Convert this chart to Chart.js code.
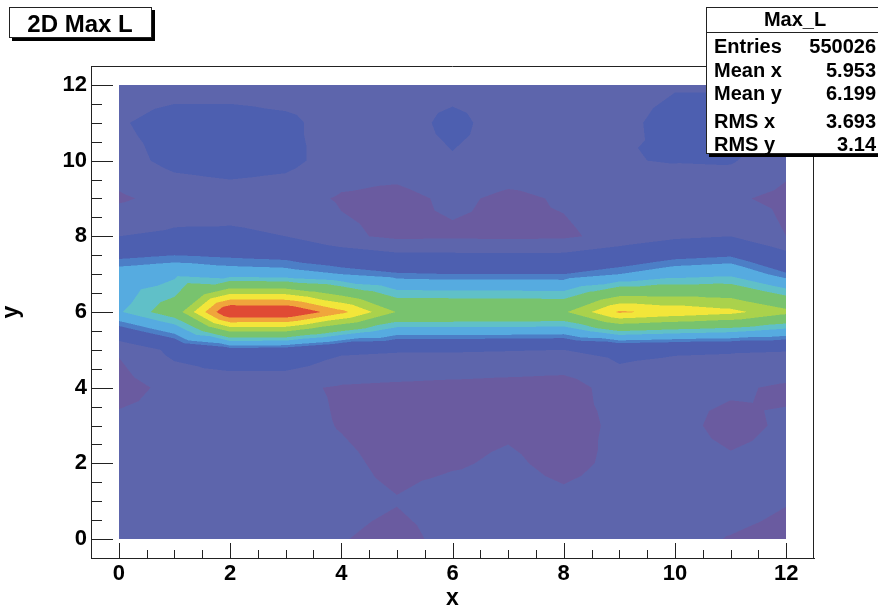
<!DOCTYPE html>
<html>
<head>
<meta charset="utf-8">
<script src="https://cdn.jsdelivr.net/npm/chart.js@4.4.0/dist/chart.umd.min.js"></script>
<style>
  html, body { margin: 0; padding: 0; background: #fff; }
</style>
</head>
<body>
<canvas id="myChart" width="878" height="612"></canvas>
<script>
// bin centres
const xCenters = [0, 1, 2, 3, 4, 5, 6, 7, 8, 9, 10, 11, 12];
const yCenters = [0, 1, 2, 3, 4, 5, 6, 7, 8, 9, 10, 11, 12];

// bin contents (thousands of entries), one list per y row, x = 0..12
const row0  = [1.5, 1.5, 1.45, 1.4, 1.05, 0.7, 1.3, 1.45, 1.4, 1.35, 1.3, 0.95, 0.7];
const row1  = [1.5, 1.5, 1.5, 1.45, 1.3, 1.05, 1.4, 1.4, 1.2, 1.4, 1.45, 1.4, 1.05];
const row2  = [1.45, 1.5, 1.45, 1.4, 1.2, 0.75, 0.9, 1.15, 0.75, 1.2, 1.4, 1.15, 1.3];
const row3  = [1.3, 1.45, 1.45, 1.35, 0.95, 0.6, 0.7, 0.85, 0.6, 1.2, 1.3, 0.7, 1.15];
const row4  = [0.6, 1.3, 1.15, 1.2, 0.9, 0.8, 0.7, 0.6, 0.5, 1.5, 1.2, 1.15, 0.85];
const row5  = [1.1, 2.3, 3.1, 3.0, 2.2, 2.1, 2.1, 2.05, 2.0, 2.3, 2.15, 2.1, 2.05];
const row6  = [4.9, 6.3, 11.2, 11.2, 9.3, 6.95, 6.95, 6.95, 6.85, 9.15, 8.7, 8.3, 7.3];
const row7  = [4.5, 4.8, 4.5, 4.4, 4.0, 3.6, 3.5, 3.5, 3.5, 4.0, 4.6, 4.8, 3.6];
const row8  = [2.0, 2.2, 2.2, 2.0, 1.2, 0.8, 0.85, 0.8, 0.85, 1.3, 1.8, 2.0, 1.0];
const row9  = [0.85, 1.35, 1.5, 1.4, 0.9, 0.7, 1.2, 0.8, 1.1, 1.5, 1.4, 1.15, 0.75];
const row10 = [1.6, 2.3, 2.5, 2.3, 1.5, 1.5, 1.9, 1.6, 1.6, 1.95, 2.05, 2.1, 1.3];
const row11 = [1.9, 2.4, 2.4, 2.2, 1.6, 1.5, 2.3, 1.5, 1.55, 1.7, 2.4, 2.4, 2.2];
const row12 = [1.5, 1.6, 1.6, 1.55, 1.5, 1.5, 1.6, 1.5, 1.5, 1.55, 1.9, 1.9, 1.8];
const zRows = [row0, row1, row2, row3, row4, row5, row6, row7, row8, row9, row10, row11, row12];

// contour levels and the fill colour of each band
const contourLevels = [1.0, 2.0, 3.5, 4.0, 5.0, 5.7, 7.0, 8.0, 9.0, 10.0];
const levelColors = ['#6a5ba0', '#5d65ac', '#4d5fb0', '#4c7ec6', '#56abe0', '#60c0c8',
                     '#78c36e', '#aad24c', '#f2e63a', '#f0a53c', '#e04a34'];

const axisTicks = [0, 2, 4, 6, 8, 10, 12];
const histTitle = '2D Max L';
const statHeader = 'Max_L';
const statNames = ['Entries', 'Mean x', 'Mean y', 'RMS x', 'RMS y'];
const statValues = ['550026', '5.953', '6.199', '3.693', '3.14'];

const FONT = '"Liberation Sans", Arial, Helvetica, sans-serif';

const rgbLevels = levelColors.map(h => [parseInt(h.slice(1, 3), 16), parseInt(h.slice(3, 5), 16), parseInt(h.slice(5, 7), 16)]);

function zAt(i, j) { return zRows[j][i]; }

// linear interpolation on the four triangles of each cell
function interp(vx, vy) {
  const n = xCenters.length - 1;
  let i = Math.min(Math.max(Math.floor(vx - xCenters[0]), 0), n - 1);
  let j = Math.min(Math.max(Math.floor(vy - yCenters[0]), 0), n - 1);
  const u = vx - xCenters[i], w = vy - yCenters[j];
  const a = zAt(i, j), b = zAt(i + 1, j), c = zAt(i + 1, j + 1), d = zAt(i, j + 1);
  const m = (a + b + c + d) / 4;
  if (w <= u && w <= 1 - u) return a * (1 - u - w) + b * (u - w) + m * 2 * w;
  if (w >= u && w >= 1 - u) return d * (w - u) + c * (u + w - 1) + m * 2 * (1 - w);
  if (u <= w) return a * (1 - u - w) + d * (w - u) + m * 2 * u;
  return b * (u - w) + c * (u + w - 1) + m * 2 * (1 - u);
}

function levelOf(z) {
  let k = 0;
  while (k < contourLevels.length && z >= contourLevels[k]) k++;
  return k;
}

const contourPlugin = {
  id: 'contour',
  beforeDatasetsDraw(chart) {
    const {ctx, scales: {x, y}} = chart;
    const left = Math.round(x.getPixelForValue(xCenters[0]));
    const right = Math.round(x.getPixelForValue(xCenters[xCenters.length - 1]));
    const top = Math.round(y.getPixelForValue(yCenters[yCenters.length - 1]));
    const bottom = Math.round(y.getPixelForValue(yCenters[0]));
    const w = right - left, h = bottom - top;
    const off = document.createElement('canvas');
    off.width = w; off.height = h;
    const octx = off.getContext('2d');
    const img = octx.createImageData(w, h);
    const sub = [0.25, 0.75];
    for (let py = 0; py < h; py++) {
      for (let px = 0; px < w; px++) {
        let r = 0, g = 0, b = 0;
        for (const sy of sub) {
          const vy = y.getValueForPixel(top + py + sy);
          for (const sx of sub) {
            const vx = x.getValueForPixel(left + px + sx);
            const col = rgbLevels[levelOf(interp(vx, vy))];
            r += col[0]; g += col[1]; b += col[2];
          }
        }
        const k = (py * w + px) * 4;
        img.data[k] = r / 4; img.data[k + 1] = g / 4; img.data[k + 2] = b / 4; img.data[k + 3] = 255;
      }
    }
    octx.putImageData(img, 0, 0);
    ctx.drawImage(off, left, top);
  }
};

const framePlugin = {
  id: 'frame',
  afterDraw(chart) {
    const {ctx, chartArea: a, scales: {x, y}} = chart;
    ctx.save();
    ctx.strokeStyle = '#222';
    ctx.lineWidth = 1;
    ctx.beginPath();
    ctx.moveTo(a.left, a.top + 0.5); ctx.lineTo(a.right, a.top + 0.5);
    ctx.moveTo(a.right - 0.5, a.top); ctx.lineTo(a.right - 0.5, a.bottom);
    // ROOT style ticks pointing into the frame
    for (let v = 0; v <= 12; v += 0.5) {
      const major = v % 2 === 0;
      const px = Math.round(x.getPixelForValue(v)) + 0.5;
      ctx.moveTo(px, a.bottom); ctx.lineTo(px, a.bottom - (major ? 15 : 8));
      const py = Math.round(y.getPixelForValue(v)) + 0.5;
      ctx.moveTo(a.left, py); ctx.lineTo(a.left + (major ? 22 : 11), py);
    }
    ctx.stroke();

    // title box
    ctx.fillStyle = '#000';
    ctx.fillRect(12, 10, 143, 31);
    ctx.fillStyle = '#fff';
    ctx.fillRect(9, 7, 143, 31);
    ctx.strokeRect(9.5, 7.5, 142, 30);
    ctx.fillStyle = '#000';
    ctx.font = 'bold 24px ' + FONT;
    ctx.textAlign = 'center';
    ctx.textBaseline = 'alphabetic';
    ctx.fillText(histTitle, 80, 32);

    // stats box
    ctx.fillStyle = '#000';
    ctx.fillRect(709, 10, 172, 147);
    ctx.fillStyle = '#fff';
    ctx.fillRect(706, 7, 172, 147);
    ctx.strokeRect(706.5, 7.5, 172, 146);
    ctx.beginPath();
    ctx.moveTo(706, 32.5); ctx.lineTo(878, 32.5);
    ctx.stroke();
    ctx.fillStyle = '#000';
    ctx.font = 'bold 20px ' + FONT;
    ctx.textAlign = 'center';
    ctx.fillText(statHeader, 795, 26);
    const rowsY = [53, 77, 100, 128, 151];
    statNames.forEach((name, k) => {
      ctx.textAlign = 'left';
      ctx.fillText(name, 714, rowsY[k]);
      ctx.textAlign = 'right';
      ctx.fillText(statValues[k], 876, rowsY[k]);
    });
    ctx.restore();
  }
};

const gridPoints = [];
yCenters.forEach((yv, j) => xCenters.forEach((xv, i) => gridPoints.push({x: xv, y: yv, z: zRows[j][i]})));

const axisCommon = {
  type: 'linear',
  min: -0.5,
  max: 12.5,
  grid: {display: false, drawTicks: false},
  border: {display: true, color: '#222', width: 1},
  afterBuildTicks: (scale) => { scale.ticks = axisTicks.map(v => ({value: v})); },
  ticks: {
    autoSkip: false,
    maxRotation: 0,
    color: '#000',
    font: {family: FONT, size: 22, weight: 'bold'},
    callback: (v) => String(v)
  }
};

const config = {
  type: 'scatter',
  data: {
    datasets: [{
      label: 'Max_L',
      data: gridPoints,
      pointRadius: 0,
      pointHoverRadius: 0
    }]
  },
  options: {
    responsive: false,
    animation: false,
    layout: {padding: {left: 0, top: 66, right: 64, bottom: 0}},
    plugins: {legend: {display: false}, tooltip: {enabled: false}},
    scales: {
      x: Object.assign({}, axisCommon, {
        position: 'bottom',
        afterFit: (s) => { s.height = 54; },
        ticks: Object.assign({}, axisCommon.ticks, {padding: 3}),
        title: {display: true, text: 'x', color: '#000', font: {family: FONT, size: 23, weight: 'bold'}, padding: {bottom: 0}}
      }),
      y: Object.assign({}, axisCommon, {
        position: 'left',
        afterFit: (s) => { s.width = 91; },
        ticks: Object.assign({}, axisCommon.ticks, {padding: 4}),
        title: {display: true, text: 'y', color: '#000', font: {family: FONT, size: 23, weight: 'bold'}, padding: {top: -2}}
      })
    }
  },
  plugins: [contourPlugin, framePlugin]
};

const myChart = new Chart(document.getElementById('myChart'), config);
</script>
</body>
</html>
